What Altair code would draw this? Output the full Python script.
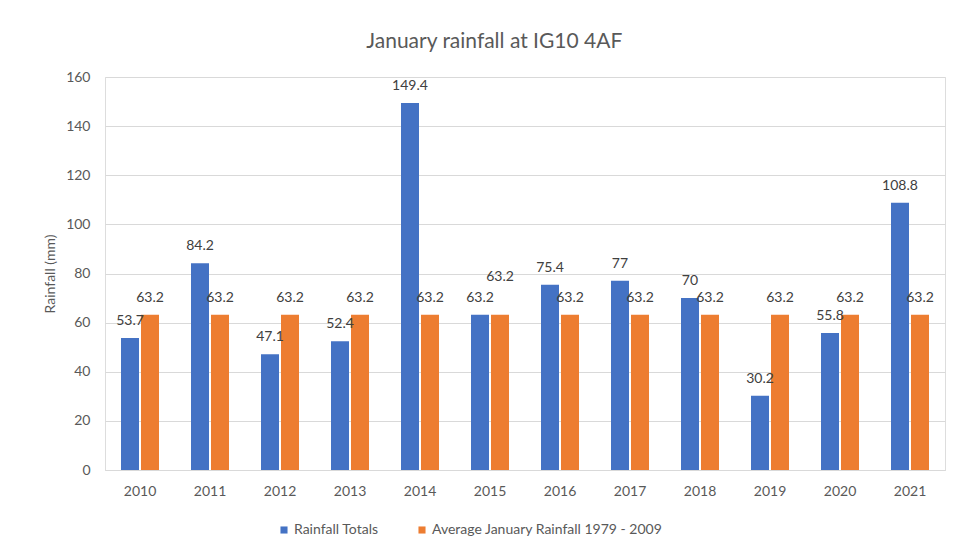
import altair as alt
import pandas as pd

years = ["2010", "2011", "2012", "2013", "2014", "2015", "2016", "2017", "2018", "2019", "2020", "2021"]
rainfall_totals = [53.7, 84.2, 47.1, 52.4, 149.4, 63.2, 75.4, 77, 70, 30.2, 55.8, 108.8]
average_rainfall = [63.2] * 12
series_names = ["Rainfall Totals", "Average January Rainfall 1979 - 2009"]
colors = ["#4472C4", "#ED7D31"]

rows = []
for i, y in enumerate(years):
    rows.append({"year": y, "series": series_names[0], "value": rainfall_totals[i]})
    rows.append({"year": y, "series": series_names[1], "value": average_rainfall[i]})
df = pd.DataFrame(rows)

font = "Lato"
grey = "#595959"

x_enc = alt.X("year:N", title=None,
              scale=alt.Scale(paddingInner=0.457, paddingOuter=0.2285),
              axis=alt.Axis(labelAngle=0, labelPadding=14, tickSize=0, domainColor="#D9D9D9",
                            labelColor=grey, labelFontSize=14, labelFont=font, grid=False))
xoff = alt.XOffset("series:N", sort=series_names, scale=alt.Scale(paddingInner=0.1))
y_enc = alt.Y("value:Q", title="Rainfall (mm)",
              scale=alt.Scale(domain=[0, 160]),
              axis=alt.Axis(values=list(range(0, 161, 20)), labelPadding=15, tickSize=0, domain=False,
                            gridColor="#D9D9D9", labelColor=grey, labelFontSize=14, labelFont=font,
                            titleColor=grey, titleFontSize=14, titleFont=font, titleFontWeight="normal",
                            titlePadding=8))
color_enc = alt.Color("series:N", sort=series_names,
                      scale=alt.Scale(domain=series_names, range=colors),
                      legend=alt.Legend(title=None, orient="none", direction="horizontal",
                                        legendX=172, legendY=446, symbolType="square",
                                        symbolSize=50, symbolStrokeWidth=0, labelFontSize=14,
                                        labelFont=font, labelColor=grey, columnPadding=36,
                                        labelOffset=3, labelLimit=0))

base = alt.Chart(df)

bars = base.mark_bar().encode(x=x_enc, xOffset=xoff, y=y_enc, color=color_enc)

labels = base.mark_text(baseline="middle", dy=-17, fontSize=14, font=font, color="#404040").encode(
    x=x_enc, xOffset=xoff, y=y_enc,
    text=alt.Text("value:Q", format="~g")
).transform_filter(
    "!(datum.year == '2015' && datum.series == 'Average January Rainfall 1979 - 2009')"
)

raised = base.mark_text(baseline="middle", dy=-38, fontSize=14, font=font, color="#404040").encode(
    x=x_enc, xOffset=xoff, y=y_enc,
    text=alt.Text("value:Q", format="~g")
).transform_filter(
    "datum.year == '2015' && datum.series == 'Average January Rainfall 1979 - 2009'"
)

chart = alt.layer(bars, labels, raised).properties(
    width=840, height=393,
    title=alt.Title("January rainfall at IG10 4AF", fontSize=21, font=font, fontWeight="normal",
                    color=grey, anchor="middle", frame="bounds", offset=18),
    autosize=alt.AutoSizeParams(type="none"),
    padding={"left": 97, "top": 69, "right": 4, "bottom": 72},
).configure_view(stroke=None).configure(background="white")

chart.save("out.html", embed_options={"renderer": "svg", "actions": False})
